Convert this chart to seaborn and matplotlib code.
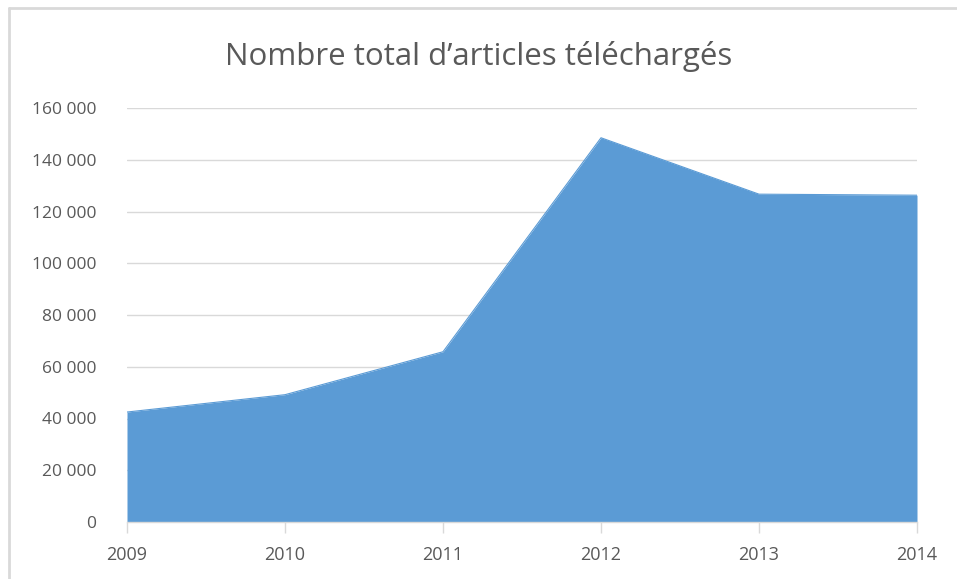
import matplotlib
matplotlib.use("Agg")
import matplotlib.pyplot as plt
from matplotlib.ticker import FuncFormatter, MultipleLocator
from matplotlib.lines import Line2D
import pandas as pd
import seaborn as sns

# Values
years = [2009, 2010, 2011, 2012, 2013, 2014]
articles = [42500, 49200, 65800, 148500, 126700, 126300]
title = "Nombre total d\u2019articles t\u00e9l\u00e9charg\u00e9s"

df = pd.DataFrame({"annee": years, "articles": articles})

sns.set_style("white")
plt.rcParams["font.family"] = ["Open Sans", "DejaVu Sans"]

fill_color = "#5b9bd5"
grid_color = "#d9d9d9"
text_color = "#595959"

fig = plt.figure(figsize=(9.57, 5.79), dpi=100)
ax = fig.add_axes([127 / 957, 1 - 522 / 579, (917 - 127) / 957, (522 - 108) / 579])

sns.lineplot(data=df, x="annee", y="articles", ax=ax, color=fill_color, linewidth=0.8)
ax.fill_between(df["annee"], df["articles"], color=fill_color, linewidth=0)

ax.set_xlim(years[0], years[-1])
ax.set_ylim(0, 160000)
ax.yaxis.set_major_locator(MultipleLocator(20000))
ax.yaxis.set_major_formatter(FuncFormatter(lambda v, p: f"{int(v):,}".replace(",", " ")))
ax.set_xticks(years)
ax.set_xticklabels([str(y) for y in years])

ax.grid(axis="y", color=grid_color, linewidth=1)
ax.set_axisbelow(True)
for side in ["top", "right", "left"]:
    ax.spines[side].set_visible(False)
ax.spines["bottom"].set_color(grid_color)
ax.spines["bottom"].set_linewidth(1)

ax.tick_params(axis="x", length=8, width=1, colors=text_color,
               labelsize=13, pad=9, direction="out", bottom=True)
ax.tick_params(axis="x", color=grid_color)
ax.tick_params(axis="y", length=0, labelcolor=text_color, labelsize=12.5, pad=22)
ax.set_xlabel("")
ax.set_ylabel("")

fig.text(0.5, 1 - 56 / 579, title, ha="center", va="center", fontsize=22.5, color=text_color)

# light frame lines at top and left, as in the reference
fig.add_artist(Line2D([9 / 957, 1], [1 - 8 / 579, 1 - 8 / 579], color=grid_color, linewidth=2,
                      transform=fig.transFigure))
fig.add_artist(Line2D([9 / 957, 9 / 957], [0, 1 - 8 / 579], color=grid_color, linewidth=2,
                      transform=fig.transFigure))

fig.savefig("out.png", dpi=100)
